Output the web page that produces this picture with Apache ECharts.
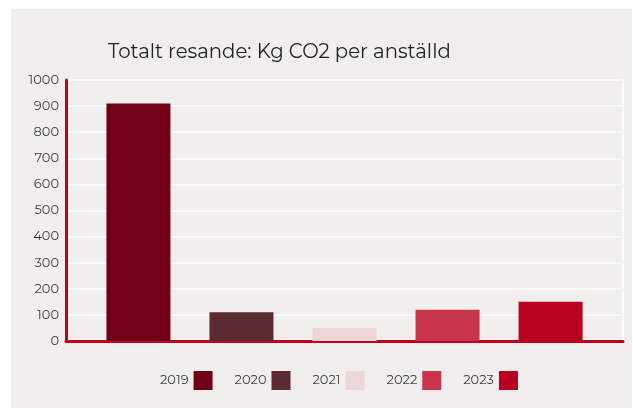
<!DOCTYPE html>
<html>
<head>
<meta charset="utf-8">
<script src="https://cdn.jsdelivr.net/npm/echarts@6/dist/echarts.min.js"></script>
<style>
  html, body { margin: 0; padding: 0; background: #ffffff; }
  #chart { width: 633px; height: 408px; }
</style>
</head>
<body>
<div id="chart"></div>
<script>
var years = ['2019', '2020', '2021', '2022', '2023']
var values = [910, 110, 50, 120, 150]
var colors = ['#710016', '#5c2b32', '#ebd7d8', '#c8344c', '#ba0020']
var categories = ['Kg CO2 per anställd']

var fontFamily = 'Montserrat, "DejaVu Sans", sans-serif'

var series = years.map(function (y, i) {
    return {
        name: y,
        type: 'bar',
        barWidth: 64,
        barGap: '61%',
        itemStyle: { color: colors[i] },
        data: [values[i]]
    }
})

var option = {
    animation: false,
    color: colors,
    graphic: [{
        type: 'rect',
        z: -10,
        silent: true,
        shape: { x: 11, y: 9, width: 621, height: 399 },
        style: { fill: '#f0efed' }
    }],
    title: {
        text: 'Totalt resande: Kg CO2 per anställd',
        left: 103,
        top: 37,
        textStyle: { fontFamily: fontFamily, fontSize: 19.7, fontWeight: 'normal', color: '#222222' }
    },
    legend: {
        bottom: 13,
        left: 155,
        align: 'right',
        itemWidth: 19,
        itemHeight: 19,
        itemGap: 22,
        icon: 'rect',
        textStyle: { fontFamily: fontFamily, fontSize: 13, color: '#444444' },
        data: years
    },
    grid: {
        left: 66,
        right: 10,
        top: 80,
        bottom: 67,
        containLabel: false
    },
    xAxis: {
        type: 'category',
        data: categories,
        axisLine: { lineStyle: { color: '#c00020', width: 3 } },
        axisTick: { show: false },
        axisLabel: { show: false },
        splitLine: { show: true, lineStyle: { color: '#fafafa', width: 2 } }
    },
    yAxis: {
        type: 'value',
        min: 0,
        max: 1000,
        interval: 100,
        axisLine: { show: true, lineStyle: { color: '#c00020', width: 3 } },
        axisTick: { show: false },
        axisLabel: {
            fontFamily: fontFamily, fontSize: 13, color: '#444444', margin: 7,
            formatter: function (v) { return String(v) }
        },
        splitLine: { lineStyle: { color: '#fafafa', width: 2 } }
    },
    series: series
}

var chart = echarts.init(document.getElementById('chart'))
chart.setOption(option)
</script>
</body>
</html>
